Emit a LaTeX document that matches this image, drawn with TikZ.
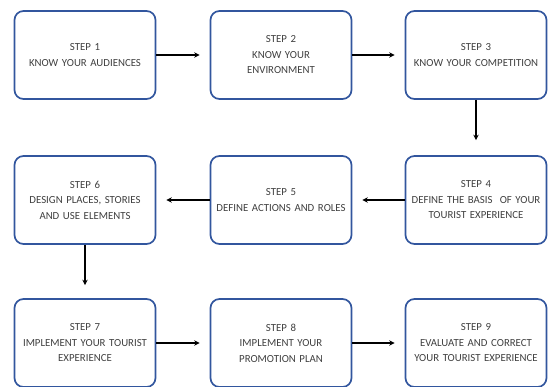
\documentclass[tikz,border=0pt]{standalone}
\usepackage{fontspec}
\setmainfont{Carlito}
\usetikzlibrary{arrows.meta}
\definecolor{boxblue}{RGB}{50,86,158}
\definecolor{txtgray}{RGB}{64,64,64}
\tikzset{
  stepbox/.style={draw=boxblue, line width=1.7pt, rounded corners=9pt, fill=white,
    minimum width=141pt, minimum height=88pt, inner sep=0pt, align=center,
    text width=139pt, text=txtgray, font=\fontsize{10.8pt}{15.5pt}\selectfont},
  flow/.style={line width=1.2pt, -{Stealth[length=5.5pt,width=5.5pt]}, shorten >=10pt}
}
\begin{document}
\begin{tikzpicture}[x=1pt,y=-1pt]
\useasboundingbox (0,0) rectangle (551,386);
\node[stepbox] (s1) at (85,55) {STEP 1\\KNOW YOUR AUDIENCES};
\node[stepbox] (s2) at (281,55) {STEP 2\\KNOW YOUR\\ENVIRONMENT};
\node[stepbox] (s3) at (476,55) {STEP 3\\KNOW YOUR COMPETITION};
\node[stepbox] (s4) at (476,200) {STEP 4\\DEFINE THE BASIS\ \ OF YOUR\\TOURIST EXPERIENCE};
\node[stepbox] (s5) at (281,200) {STEP 5\\DEFINE ACTIONS AND ROLES};
\node[stepbox] (s6) at (85,200) {STEP 6\\DESIGN PLACES, STORIES\\AND USE ELEMENTS};
\node[stepbox] (s7) at (85,343) {STEP 7\\IMPLEMENT YOUR TOURIST\\EXPERIENCE};
\node[stepbox] (s8) at (281,343) {STEP 8\\IMPLEMENT YOUR\\PROMOTION PLAN};
\node[stepbox] (s9) at (476,343) {STEP 9\\EVALUATE AND CORRECT\\YOUR TOURIST EXPERIENCE};
\draw[flow] (s1) -- (s2);
\draw[flow] (s2) -- (s3);
\draw[flow, shorten >=15pt] (s3) -- (s4);
\draw[flow] (s4) -- (s5);
\draw[flow] (s5) -- (s6);
\draw[flow, shorten >=13pt] (s6) -- (s7);
\draw[flow] (s7) -- (s8);
\draw[flow] (s8) -- (s9);
\end{tikzpicture}
\end{document}
